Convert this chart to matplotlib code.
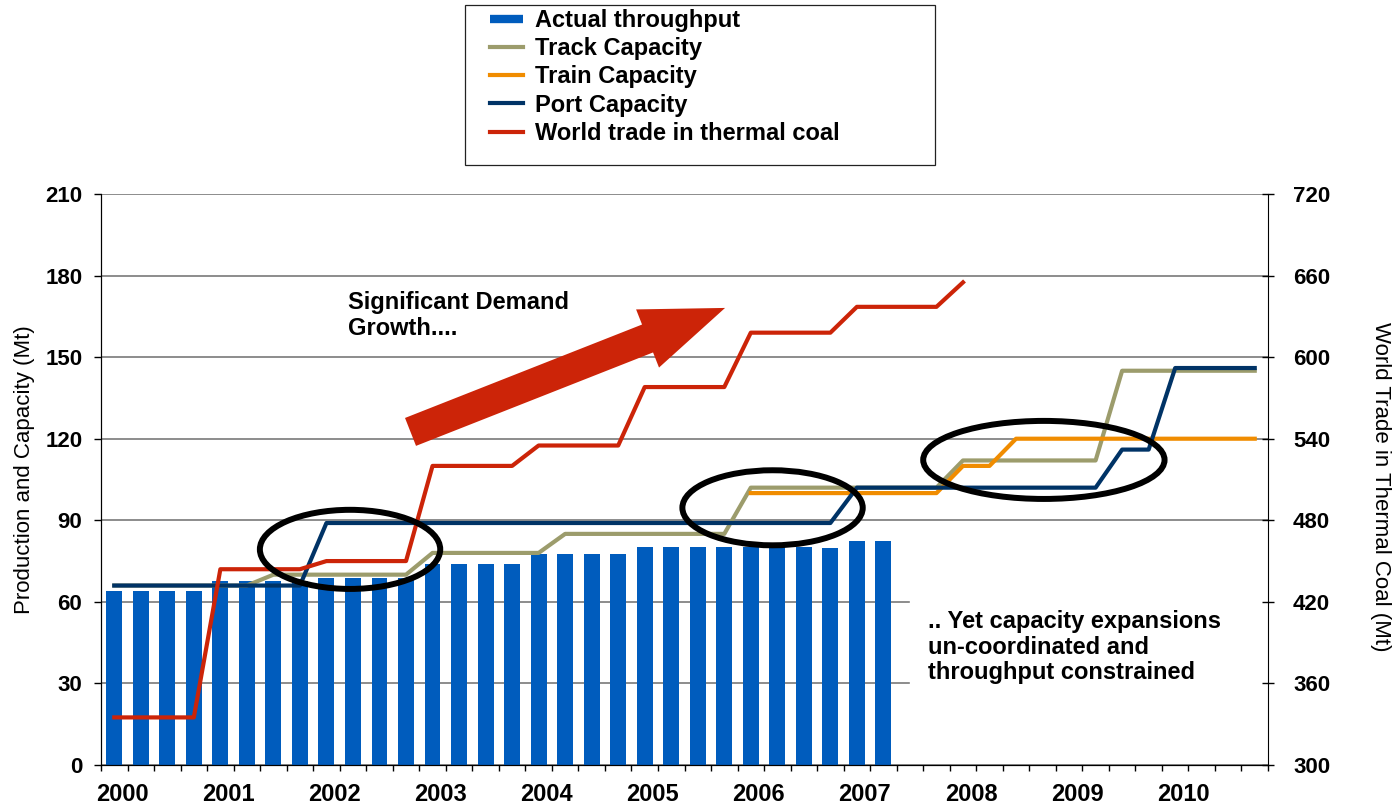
import matplotlib
matplotlib.use('Agg')
import matplotlib.pyplot as plt
import numpy as np
from matplotlib.patches import Ellipse, Rectangle
from matplotlib.lines import Line2D

plt.rcParams['font.family'] = ['Liberation Sans', 'DejaVu Sans']
plt.rcParams['font.weight'] = 'bold'

# quarterly categories 2000 Q1 .. 2010 Q4
years = ['2000', '2001', '2002', '2003', '2004', '2005',
         '2006', '2007', '2008', '2009', '2010']

# Mt, left axis
throughput = [64, 64, 64, 64, 67.7, 67.7, 67.7, 67.7, 68.8, 68.8, 68.8, 68.8,
              74, 74, 74, 74, 77.5, 77.5, 77.5, 77.5, 80.2, 80.2, 80.2, 80.2,
              80.2, 80.2, 80.2, 79.7, 82.3, 82.3]
track = [66, 66, 66, 66, 66, 66, 70, 70, 70, 70, 70, 70,
         78, 78, 78, 78, 78, 85, 85, 85, 85, 85, 85, 85,
         102, 102, 102, 102, 102, 102, 102, 102, 112, 112, 112, 112,
         112, 112, 145, 145, 145, 145, 145, 145]
train = [None, None, None, None, None, None, None, None, None, None, None, None,
         None, None, None, None, None, None, None, None, None, None, None, None,
         100, 100, 100, 100, 100, 100, 100, 100, 110, 110, 120, 120,
         120, 120, 120, 120, 120, 120, 120, 120]
port = [66, 66, 66, 66, 66, 66, 66, 66, 89, 89, 89, 89,
        89, 89, 89, 89, 89, 89, 89, 89, 89, 89, 89, 89,
        89, 89, 89, 89, 102, 102, 102, 102, 102, 102, 102, 102,
        102, 102, 116, 116, 146, 146, 146, 146]
# Mt, right axis
world_trade = [335, 335, 335, 335, 444, 444, 444, 444, 450, 450, 450, 450,
               520, 520, 520, 520, 535, 535, 535, 535, 578, 578, 578, 578,
               618, 618, 618, 618, 637, 637, 637, 637, 655]

c_bar = '#005cbd'
c_track = '#9c9c6c'
c_train = '#f08c00'
c_port = '#003366'
c_red = '#cc2408'

W, H = 1393, 805
fig = plt.figure(figsize=(W / 100, H / 100), dpi=100)
ax = fig.add_axes([101 / W, 1 - 765 / H, 1167 / W, 571 / H])
ax2 = ax.twinx()

xq = np.arange(len(track))
ax.bar(np.arange(len(throughput)), throughput, width=0.6, color=c_bar, zorder=2)
ax.plot(xq, np.array(track, dtype=float), color=c_track, lw=3, zorder=3)
ax.plot(xq, np.array(train, dtype=float), color=c_train, lw=3, zorder=3)
ax.plot(xq, np.array(port, dtype=float), color=c_port, lw=3, zorder=4)
ax2.plot(np.arange(len(world_trade)), world_trade, color=c_red, lw=3)

# white box behind the right-hand note (hides gridlines)
ax.add_patch(Rectangle((30.0, 20), 13.45, 46, color='white', zorder=1))

# circles around the capacity mismatches
for cx, cy, ew, eh in [(8.89, 79.3, 6.8, 29.1), (24.82, 94.6, 6.8, 27.6),
                       (35.05, 112.2, 9.1, 28.7)]:
    ax2.add_artist(Ellipse((cx, cy), ew, eh, fill=False, ec='black', lw=4.3,
                           transform=ax.transData, zorder=6))

# big demand arrow
ax.annotate('', xy=(23.03, 168.1), xytext=(11.17, 122.5),
            arrowprops=dict(arrowstyle='simple,tail_width=2.16,head_width=4.5,head_length=6.0',
                            fc=c_red, ec='none', shrinkA=0, shrinkB=0),
            zorder=5)

ax.set_xlim(-0.5, 43.5)
ax.set_ylim(0, 210)
ax2.set_ylim(300, 720)
ax.set_yticks(range(0, 211, 30))
ax2.set_yticks(range(300, 721, 60))

ax.set_xticks(np.arange(-0.5, 44, 1))
ax.set_xticklabels([])
ax.set_xticks(np.arange(0, 44, 4) + 0.3, minor=True)
ax.set_xticklabels(years, minor=True)
ax.tick_params(axis='x', which='major', direction='out', length=4, width=1)
ax.tick_params(axis='x', which='minor', length=0, pad=13, labelsize=17)
ax.tick_params(axis='y', direction='out', length=5, width=1, pad=8.5, labelsize=16)
ax2.tick_params(axis='y', direction='inout', length=8, width=1, pad=14, labelsize=16)

ax.yaxis.grid(True, color='#6e6e6e', lw=1.1)
ax.set_axisbelow(True)
for a in (ax, ax2):
    a.spines['top'].set_visible(False)
ax.spines['right'].set_visible(False)

fig.text(25 / W, 1 - 470 / H, 'Production and Capacity (Mt)', rotation=90,
         ha='center', va='center', fontsize=16, fontweight='normal')
fig.text(1380 / W, 1 - 487 / H, 'World Trade in Thermal Coal (Mt)', rotation=270,
         ha='center', va='center', fontsize=16, fontweight='normal')

fig.text(348 / W, 1 - 291 / H, 'Significant Demand\nGrowth....', fontsize=17,
         ha='left', va='top', linespacing=1.15)
fig.text(928 / W, 1 - 610 / H,
         '.. Yet capacity expansions\nun-coordinated and\nthroughput constrained',
         fontsize=17, ha='left', va='top', linespacing=1.15)

# legend
fig.add_artist(Rectangle((465 / W, 1 - 165 / H), 470 / W, 160 / H,
                         transform=fig.transFigure, fill=False, ec='#222222', lw=0.9))
handles = [Line2D([], [], color=c_bar, lw=6, solid_capstyle='butt'),
           Line2D([], [], color=c_track, lw=3),
           Line2D([], [], color=c_train, lw=3),
           Line2D([], [], color=c_port, lw=3),
           Line2D([], [], color=c_red, lw=3)]
labels = ['Actual throughput', 'Track Capacity', 'Train Capacity',
          'Port Capacity', 'World trade in thermal coal']
fig.legend(handles, labels, loc='upper left', bbox_to_anchor=(490 / W, 1 - 9 / H),
           frameon=False, fontsize=17, handlelength=1.4, handletextpad=0.5,
           labelspacing=0.22, borderpad=0, borderaxespad=0)

fig.savefig('out.png', dpi=100)
